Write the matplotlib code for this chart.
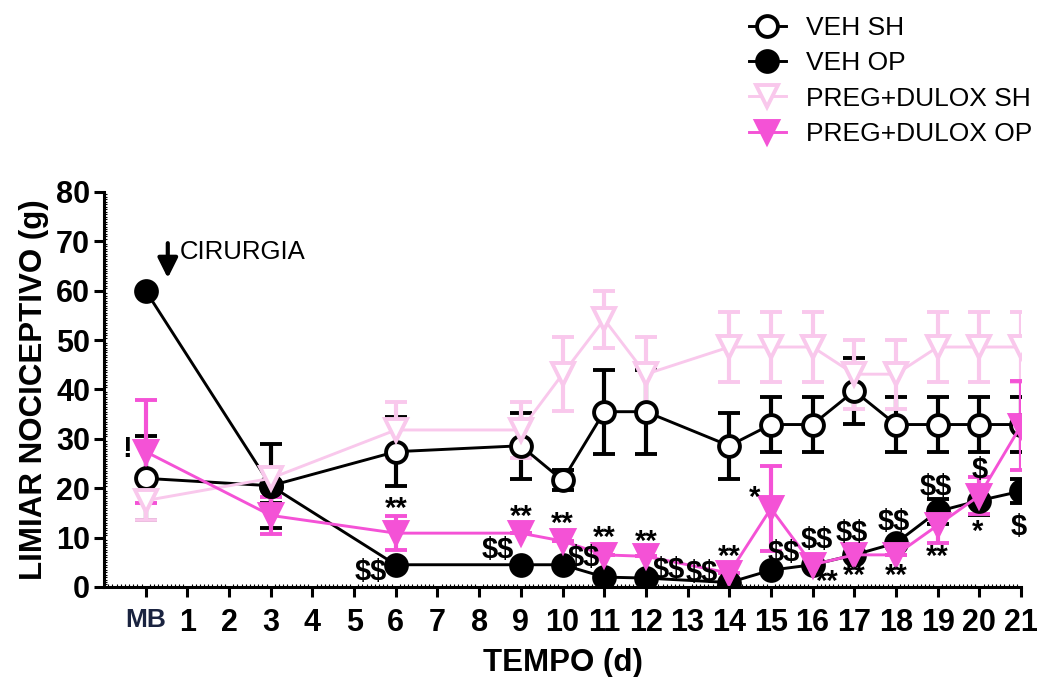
import matplotlib
matplotlib.use("Agg")
import matplotlib.pyplot as plt
from matplotlib.ticker import MultipleLocator

# ---------------------
# DATA
# ---------------------
days = [0, 3, 6, 9, 10, 11, 12, 14, 15, 16, 17, 18, 19, 20, 21]
tick_labels = ['MB'] + [str(d) for d in range(1, 22)]

veh_sh = [22.0, 20.5, 27.4, 28.6, 21.6, 35.5, 35.5, 28.6, 32.9, 32.9, 39.7, 32.9, 32.9, 32.9, 32.9]
veh_sh_err = [8.5, 8.5, 7.0, 6.7, 2.0, 8.5, 8.5, 6.7, 5.5, 5.5, 6.7, 5.5, 5.5, 5.5, 5.5]

veh_op = [60.0, 20.5, 4.5, 4.5, 4.5, 2.0, 1.8, 0.9, 3.4, 4.5, 6.5, 8.9, 15.3, 17.5, 19.4]
veh_op_err = [0, 3.5, 0, 0, 0, 0, 0, 0, 0, 0, 0, 0, 2.6, 3.0, 2.4]

preg_sh = [17.5, 22.0, 31.8, 31.8, 43.1, 54.2, 43.1, 48.6, 48.6, 48.6, 43.1, 43.1, 48.6, 48.6, 48.6]
preg_sh_err = [4.0, 2.0, 5.6, 5.6, 7.5, 5.8, 7.6, 7.0, 7.0, 7.0, 7.0, 7.0, 7.0, 7.0, 7.0]

preg_op = [27.4, 14.5, 10.9, 10.9, 9.3, 6.5, 6.2, 2.8, 15.9, 4.5, 6.5, 6.5, 12.5, 18.5, 32.7]
preg_op_err = [10.4, 3.8, 3.4, 0, 0, 0, 0, 0, 8.7, 0, 0, 0, 3.5, 3.7, 9.0]

# significance marks: (text, x, y)
marks = [
    ('!', -0.44, 28.0),
    ('**', 6.0, 15.8), ('**', 9.0, 14.2), ('**', 10.0, 12.8), ('**', 11.0, 9.9),
    ('**', 12.0, 9.1), ('**', 14.0, 6.1),
    ('$$', 5.4, 3.0), ('$$', 8.45, 7.5), ('$$', 10.5, 5.9), ('$$', 12.55, 3.4),
    ('$$', 13.35, 2.8),
    ('$$', 15.3, 6.9), ('*', 14.6, 18.0),
    ('$$', 16.1, 9.5), ('**', 16.35, 1.0),
    ('$$', 16.95, 10.9), ('**', 17.0, 2.2),
    ('$$', 17.95, 13.2), ('**', 18.0, 2.2),
    ('$$', 18.95, 20.2), ('**', 19.0, 6.1),
    ('$', 20.0, 23.7), ('*', 19.95, 11.1),
    ('$', 20.95, 12.1),
]

LIGHT_PINK = '#f9c8ec'
MAGENTA = '#f452d6'

# ---------------------
# FIGURE
# ---------------------
plt.rcParams['font.family'] = ['Liberation Sans', 'DejaVu Sans']
fig = plt.figure(figsize=(10.37, 6.77), dpi=100)
ax = fig.add_axes([0.1003, 0.133, 0.8843, 0.5834])

err_kw = dict(elinewidth=3, capsize=8, capthick=3)

series = [
    ('VEH SH', veh_sh, veh_sh_err, 'k', 'o', 'white', 'k', 15),
    ('VEH OP', veh_op, veh_op_err, 'k', 'o', 'k', 'k', 15),
    ('PREG+DULOX SH', preg_sh, preg_sh_err, LIGHT_PINK, 'v', 'white', LIGHT_PINK, 16),
    ('PREG+DULOX OP', preg_op, preg_op_err, MAGENTA, 'v', MAGENTA, MAGENTA, 16),
]

handles = []
for label, y, yerr, color, mk, mfc, mec, ms in series:
    cont = ax.errorbar(days, y, yerr=yerr, color=color, lw=2.1, marker=mk, ms=ms,
                       mfc=mfc, mec=mec, mew=2.8, ecolor=color, **err_kw)
    handles.append(cont[0])

for txt, x, y in marks:
    ax.text(x, y, txt, ha='center', va='center', fontsize=21, fontweight='bold',
            parse_math=False, zorder=5)

# surgery arrow
ax.annotate('', xy=(0.53, 62.0), xytext=(0.53, 70.2),
            arrowprops=dict(arrowstyle='-|>', color='k', lw=3, mutation_scale=30))
ax.text(0.82, 67.8, 'CIRURGIA', ha='left', va='center', fontsize=18.5)

# axes styling
ax.set_xlim(-1, 21)
ax.set_ylim(0, 80)
ax.set_xticks(range(0, 22))
ax.set_xticklabels(tick_labels, fontsize=22, fontweight='bold')
ax.get_xticklabels()[0].set_fontsize(19)
ax.get_xticklabels()[0].set_color('#1a2340')
ax.set_yticks(range(0, 81, 10))
ax.set_yticklabels([str(v) for v in range(0, 81, 10)], fontsize=22, fontweight='bold')
ax.xaxis.set_minor_locator(MultipleLocator(0.1))
ax.yaxis.set_minor_locator(MultipleLocator(0.5))
ax.tick_params(which='major', direction='out', length=7, width=2.2)
ax.tick_params(axis='x', which='major', pad=8)
ax.tick_params(axis='y', which='major', pad=3)
ax.tick_params(which='minor', direction='in', length=2.5, width=0.8)
for side in ['top', 'right']:
    ax.spines[side].set_visible(False)
for side in ['left', 'bottom']:
    ax.spines[side].set_linewidth(2.2)

ax.set_xlabel('TEMPO (d)', fontsize=22.5, fontweight='bold', labelpad=7)
ax.set_ylabel('LIMIAR NOCICEPTIVO (g)', fontsize=22.5, fontweight='bold', labelpad=5)

fig.legend(handles, [s[0] for s in series], loc='upper left',
           bbox_to_anchor=(0.707, 1.0), frameon=False, fontsize=19,
           handlelength=1.4, handletextpad=0.75, labelspacing=0.43,
           borderpad=0.2, borderaxespad=0.4)

fig.savefig('out.png', dpi=100)
